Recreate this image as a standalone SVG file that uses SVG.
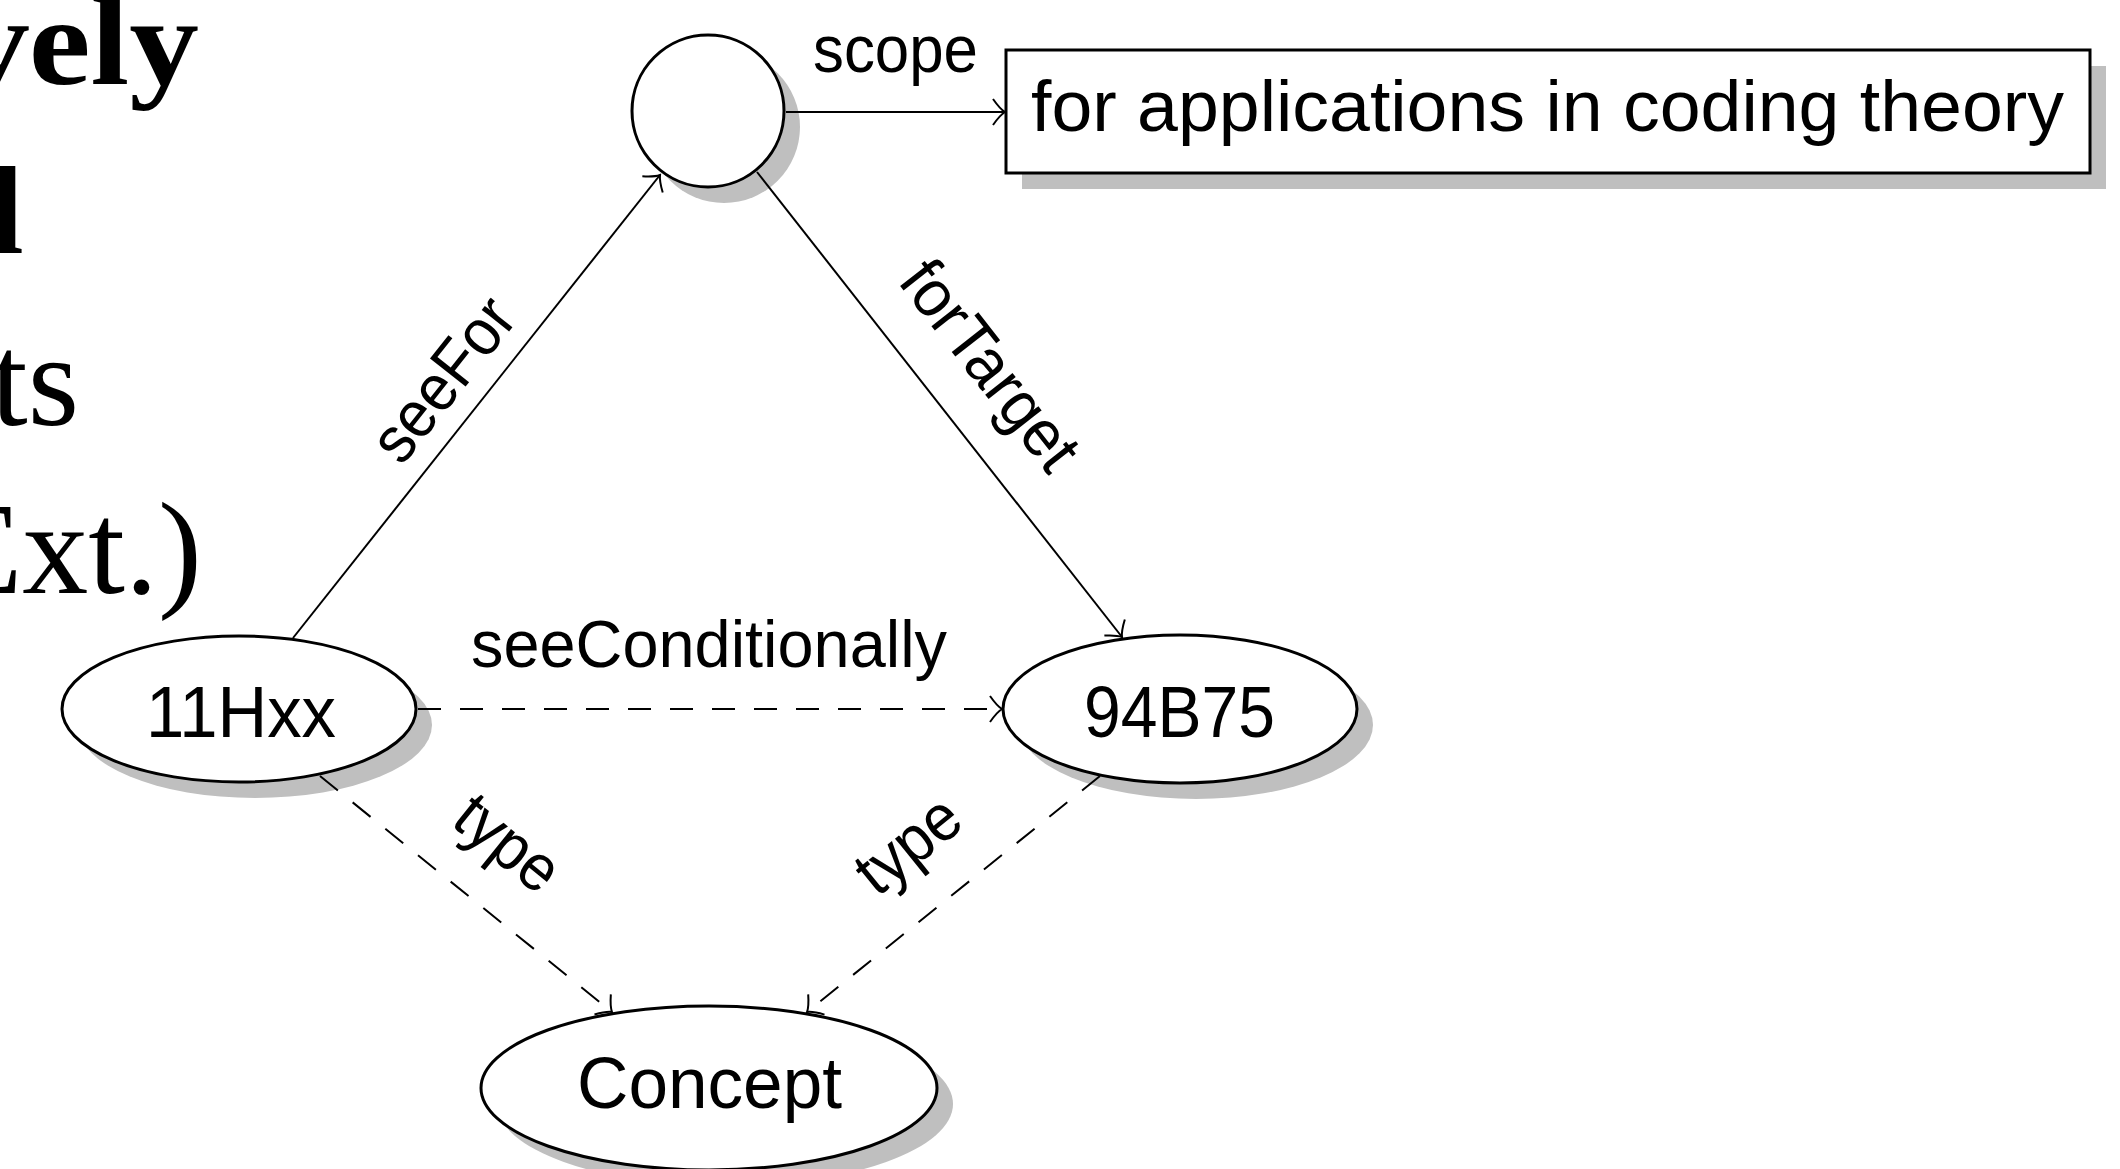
<svg xmlns="http://www.w3.org/2000/svg" width="2120" height="1169" viewBox="0 0 2120 1169">
  <style>
    .shadow { fill: #bfbfbf; stroke: none; }
    .shape { fill: #ffffff; stroke: #000000; stroke-width: 3; }
    .edge { fill: none; stroke: #000000; stroke-width: 2; }
    .dash { stroke-dasharray: 23 19; }
    .lbl { font-family: "Liberation Sans", Arial, sans-serif; font-size: 66px; fill: #000000; }
    .nlbl { font-family: "Liberation Sans", Arial, sans-serif; font-size: 72px; fill: #000000; }
    .big { font-family: "Liberation Serif", "Times New Roman", serif; fill: #000000; }
  </style>
  <defs>
    <marker id="arr" markerUnits="userSpaceOnUse" markerWidth="18" markerHeight="30" viewBox="-16 -15 18 30" refX="0" refY="0" orient="auto" overflow="visible">
      <path d="M -12,-13 Q -5,-3 0,0 Q -5,3 -12,13" fill="none" stroke="#000000" stroke-width="2" stroke-dasharray="none"/>
    </marker>
  </defs>
  <rect x="0" y="0" width="2120" height="1169" fill="#ffffff"/>

  <g id="title-fragments">
    <text class="big" x="-41" y="84" font-size="125" font-weight="bold" textLength="240" lengthAdjust="spacingAndGlyphs">vely</text>
    <text class="big" x="-11" y="253" font-size="125" font-weight="bold">l</text>
    <text class="big" x="79" y="425" font-size="132" text-anchor="end">ts</text>
    <text class="big" x="202" y="593" font-size="132" text-anchor="end">Ext.)</text>
  </g>

  <g id="node-blank">
    <circle class="shadow" cx="724" cy="127" r="76"/>
    <circle class="shape" cx="708" cy="111" r="76"/>
  </g>

  <g id="node-scope-literal">
    <rect class="shadow" x="1022" y="66" width="1084" height="123"/>
    <rect class="shape" x="1006" y="50" width="1084" height="123"/>
    <text class="nlbl" x="1031" y="131" font-size="74" textLength="1033" lengthAdjust="spacingAndGlyphs">for applications in coding theory</text>
  </g>

  <g id="node-11Hxx">
    <ellipse class="shadow" cx="255" cy="725" rx="177" ry="73"/>
    <ellipse class="shape" cx="239" cy="709" rx="177" ry="73"/>
    <text class="nlbl" x="146" y="737" textLength="190" lengthAdjust="spacingAndGlyphs">11Hxx</text>
  </g>

  <g id="node-94B75">
    <ellipse class="shadow" cx="1196" cy="725" rx="177" ry="74"/>
    <ellipse class="shape" cx="1180" cy="709" rx="177" ry="74"/>
    <text class="nlbl" x="1084" y="737" textLength="191" lengthAdjust="spacingAndGlyphs">94B75</text>
  </g>

  <g id="node-Concept">
    <ellipse class="shadow" cx="725" cy="1104" rx="228" ry="82"/>
    <ellipse class="shape" cx="709" cy="1088" rx="228" ry="82"/>
    <text class="nlbl" x="577" y="1108" textLength="265" lengthAdjust="spacingAndGlyphs">Concept</text>
  </g>

  <g id="connectors">
    <line class="edge" x1="786" y1="112" x2="1005" y2="112" marker-end="url(#arr)"/>
    <line class="edge" x1="293" y1="638" x2="660" y2="175" marker-end="url(#arr)"/>
    <line class="edge" x1="757" y1="172" x2="1122" y2="637" marker-end="url(#arr)"/>
    <line class="edge dash" x1="418" y1="709" x2="1002" y2="709" marker-end="url(#arr)"/>
    <line class="edge dash" x1="320" y1="776" x2="612" y2="1012" marker-end="url(#arr)"/>
    <line class="edge dash" x1="1100" y1="776" x2="807" y2="1012" marker-end="url(#arr)"/>

    <text class="lbl" x="813" y="72" textLength="165" lengthAdjust="spacingAndGlyphs">scope</text>
    <text class="lbl" x="471" y="667" textLength="476" lengthAdjust="spacingAndGlyphs">seeConditionally</text>
    <g transform="translate(476.5 406.5) rotate(-51.6)">
      <text class="lbl" x="-94" y="-21" textLength="189" lengthAdjust="spacingAndGlyphs">seeFor</text>
    </g>
    <g transform="translate(939.5 404.5) rotate(51.9)">
      <text class="lbl" x="-123" y="-42" textLength="247" lengthAdjust="spacingAndGlyphs">forTarget</text>
    </g>
    <g transform="translate(466 894) rotate(38.9)">
      <text class="lbl" x="-57" y="-44" textLength="115" lengthAdjust="spacingAndGlyphs">type</text>
    </g>
    <g transform="translate(953.5 894) rotate(-38.9)">
      <text class="lbl" x="-62" y="-45" textLength="115" lengthAdjust="spacingAndGlyphs">type</text>
    </g>
  </g>
</svg>
